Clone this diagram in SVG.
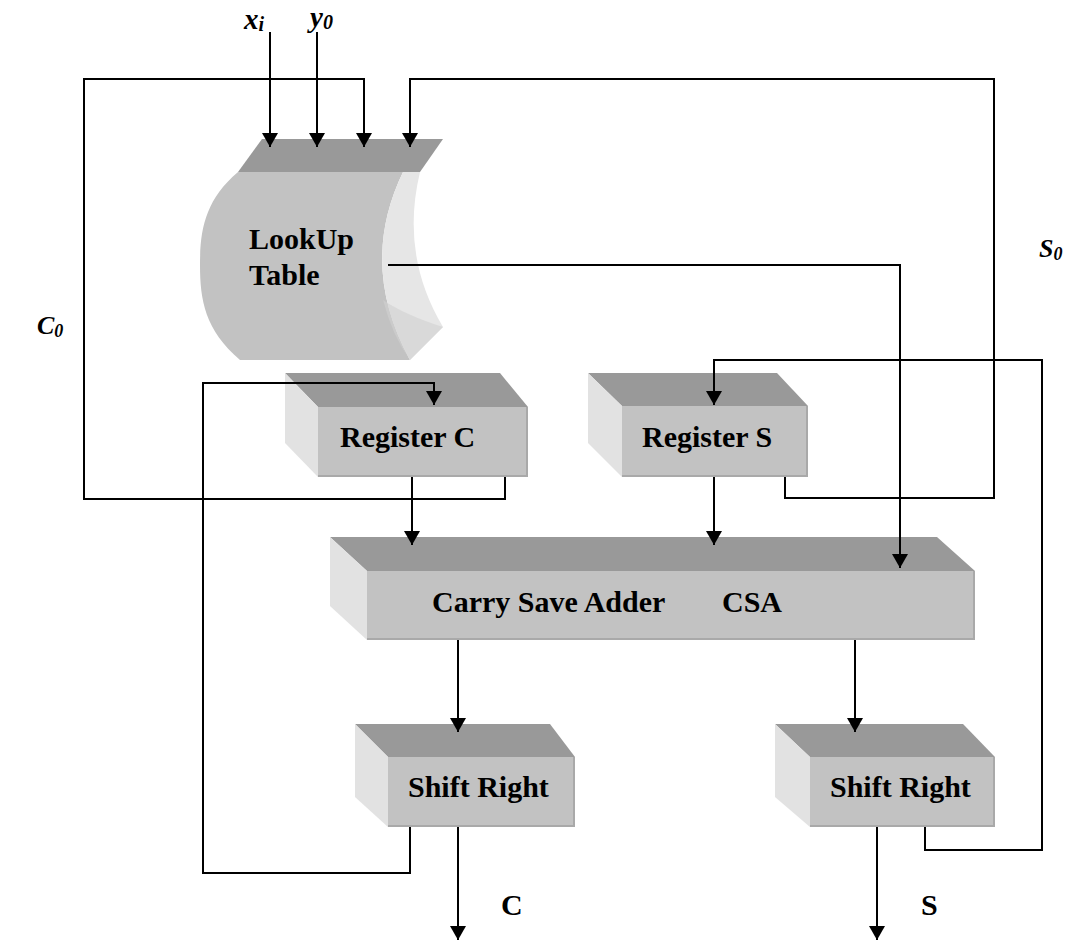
<svg xmlns="http://www.w3.org/2000/svg" width="1070" height="942" viewBox="0 0 1070 942">
<defs>
<marker id="ah" viewBox="0 0 14 16" refX="14" refY="8" markerWidth="14" markerHeight="16" markerUnits="userSpaceOnUse" orient="auto">
<path d="M0,0 L14,8 L0,16 Z" fill="#000"/>
</marker>
</defs>
<style>
.top{fill:#999999}
.front{fill:#C2C2C2}
.side{fill:#E2E2E2}
.edge{fill:none;stroke:#A9A9A9;stroke-width:2}
.lbl{font-family:"Liberation Serif","Times New Roman",serif;font-weight:bold;font-size:30px;fill:#000}
.it{font-family:"Liberation Serif","Times New Roman",serif;font-weight:bold;font-style:italic;fill:#000}
.wire{fill:none;stroke:#000;stroke-width:2}
.arr{fill:none;stroke:#000;stroke-width:2;marker-end:url(#ah)}
</style>
<rect width="1070" height="942" fill="#fff"/>

<g id="lookup">
<polygon class="top" points="262,139 443,139 420,172 238,172"/>
<path class="front" d="M238,172 L403,172 Q358,265 410,360 L240,360 C205,330 200,300 200,265 C200,230 205,200 238,172 Z"/>
<path fill="#E6E6E6" d="M403,172 L420,172 Q400,255 443,327 L410,360 Q358,265 403,172 Z"/>
<path fill="#D0D0D0" d="M443,327 L410,360 Q392,335 383,300 Q405,315 443,327 Z" opacity="0.6"/>
<text class="lbl" x="249" y="249">LookUp</text>
<text class="lbl" x="249" y="285">Table</text>
</g>

<g id="regC">
<polygon class="top" points="285,373 500,373 528,407 318,407"/>
<polygon class="side" points="285,373 318,407 318,477 285,443"/>
<rect class="front" x="318" y="407" width="210" height="70"/>
<polyline class="edge" points="318,476 527,476 527,407"/>
<text class="lbl" x="340" y="447">Register C</text>
</g>

<g id="regS">
<polygon class="top" points="588,373 777,373 808,406 622,406"/>
<polygon class="side" points="588,373 622,406 622,477 588,443"/>
<rect class="front" x="622" y="406" width="186" height="71"/>
<polyline class="edge" points="622,476 807,476 807,406"/>
<text class="lbl" x="642" y="447">Register S</text>
</g>

<g id="csa">
<polygon class="top" points="330,537 937,537 975,571 367,571"/>
<polygon class="side" points="330,537 367,571 367,640 330,606"/>
<rect class="front" x="367" y="571" width="608" height="69"/>
<polyline class="edge" points="367,639 974,639 974,571"/>
<text class="lbl" x="432" y="612">Carry Save Adder</text>
<text class="lbl" x="722" y="612">CSA</text>
</g>

<g id="shiftC">
<polygon class="top" points="355,724 550,724 575,757 388,757"/>
<polygon class="side" points="355,724 388,757 388,827 355,797"/>
<rect class="front" x="388" y="757" width="187" height="70"/>
<polyline class="edge" points="388,826 574,826 574,757"/>
<text class="lbl" x="408" y="797">Shift Right</text>
</g>

<g id="shiftS">
<polygon class="top" points="775,724 963,724 995,757 810,757"/>
<polygon class="side" points="775,724 810,757 810,827 775,797"/>
<rect class="front" x="810" y="757" width="185" height="70"/>
<polyline class="edge" points="810,826 994,826 994,757"/>
<text class="lbl" x="830" y="797">Shift Right</text>
</g>

<g id="connectors">
<line class="arr" x1="270" y1="32" x2="270" y2="147"/>
<line class="arr" x1="317" y1="32" x2="317" y2="147"/>
<polyline class="arr" points="505,477 505,499 84,499 84,79 364,79 364,147"/>
<polyline class="arr" points="785,477 785,498 994,498 994,79 410,79 410,147"/>
<polyline class="arr" points="388,265 900,265 900,568"/>
<polyline class="arr" points="410,827 410,873 203,873 203,383 434,383 434,405"/>
<polyline class="arr" points="925,827 925,850 1042,850 1042,360 714,360 714,405"/>
<line class="arr" x1="412" y1="477" x2="412" y2="545"/>
<line class="arr" x1="714" y1="477" x2="714" y2="545"/>
<line class="arr" x1="458" y1="640" x2="458" y2="732"/>
<line class="arr" x1="855" y1="640" x2="855" y2="732"/>
<line class="arr" x1="458" y1="827" x2="458" y2="940"/>
<line class="arr" x1="877" y1="827" x2="877" y2="940"/>
</g>

<g id="labels">
<text class="it" x="244" y="29" font-size="29">x<tspan font-size="20" dy="2">i</tspan></text>
<text class="it" x="310" y="27" font-size="29">y<tspan font-size="20" dy="2">0</tspan></text>
<text class="it" x="37" y="334" font-size="26">C<tspan font-size="18" dy="3">0</tspan></text>
<text class="it" x="1039" y="257" font-size="26">S<tspan font-size="18" dy="3">0</tspan></text>
<text class="lbl" x="501" y="915">C</text>
<text class="lbl" x="921" y="915">S</text>
</g>
</svg>
